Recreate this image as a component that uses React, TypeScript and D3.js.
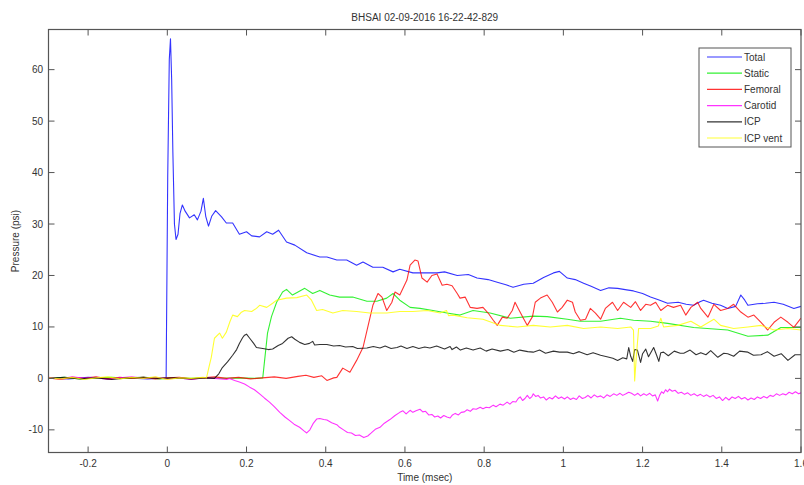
import React from "react";
import * as d3 from "d3";

const titleText = "BHSAI 02-09-2016 16-22-42-829";
const xLabel = "Time (msec)";
const yLabel = "Pressure (psi)";
const xTicks = [-0.2, 0, 0.2, 0.4, 0.6, 0.8, 1, 1.2, 1.4, 1.6];
const yTicks = [-10, 0, 10, 20, 30, 40, 50, 60];
const seriesNames = ["Total", "Static", "Femoral", "Carotid", "ICP", "ICP vent"];
const seriesColors = ["#0000ff", "#00ee00", "#ff0000", "#ff00ff", "#000000", "#ffff00"];

const total: [number, number][] = [[-0.3,0.1],[-0.25,-0.1],[-0.2,0.2],[-0.15,0],[-0.1,0.1],[-0.05,-0.1],[-0.003,0.1],[0.001,39],[0.005,62],[0.008,66],[0.011,58],[0.014,44],[0.018,30],[0.022,27],[0.027,28],[0.032,32],[0.038,33.7],[0.045,32.5],[0.056,31.2],[0.068,31.8],[0.076,30.8],[0.085,32.5],[0.091,35],[0.097,31.5],[0.104,29.6],[0.112,31.5],[0.122,32.6],[0.137,31.4],[0.149,30.2],[0.165,30.2],[0.182,28],[0.2,28.5],[0.213,27.7],[0.233,27.5],[0.251,28.5],[0.266,28],[0.281,28.8],[0.301,26.5],[0.322,25.9],[0.352,24.4],[0.385,23.6],[0.403,23.6],[0.428,23],[0.453,23],[0.478,22],[0.494,22.6],[0.519,21.6],[0.544,21.6],[0.57,20.7],[0.587,21.2],[0.62,20.5],[0.638,20.5],[0.663,20.5],[0.681,20.5],[0.7,20.7],[0.732,20],[0.76,20.2],[0.782,19.5],[0.81,19.2],[0.833,18.7],[0.855,18.2],[0.873,17.7],[0.9,18.3],[0.924,18.5],[0.95,19.6],[0.975,20.5],[0.99,20.8],[1.01,19.5],[1.03,19.2],[1.051,18.5],[1.07,17.9],[1.094,17.1],[1.115,17.6],[1.137,17.5],[1.16,17.2],[1.177,17],[1.2,16.5],[1.22,15.8],[1.24,15.3],[1.263,14.6],[1.29,14.8],[1.31,14.4],[1.329,14.2],[1.345,14.9],[1.354,15.2],[1.375,14.6],[1.397,14.2],[1.415,13.6],[1.435,14],[1.448,16.2],[1.458,15.2],[1.466,14.2],[1.49,14.5],[1.51,14.6],[1.532,14.8],[1.555,14.4],[1.582,13.6],[1.6,14]];

const staticP: [number, number][] = [[-0.3,0],[-0.26,0.2],[-0.22,-0.1],[-0.18,0.1],[-0.14,0.2],[-0.1,0],[-0.06,0.2],[-0.02,-0.1],[0.02,0.1],[0.06,0],[0.1,0.1],[0.14,0],[0.18,0.1],[0.22,0],[0.241,0.1],[0.253,8.8],[0.263,12],[0.276,14.8],[0.291,16.8],[0.301,17.3],[0.316,16.2],[0.33,16.8],[0.347,17.5],[0.367,16.5],[0.385,17.1],[0.41,16.2],[0.435,15.8],[0.468,15.8],[0.504,15],[0.529,15],[0.554,15.6],[0.57,16.5],[0.587,15.2],[0.613,13.8],[0.638,13.6],[0.671,13.2],[0.706,12.7],[0.739,12.3],[0.772,13.2],[0.815,12.7],[0.866,11.7],[0.924,12.1],[0.959,12],[1.01,11.5],[1.043,11.1],[1.094,11.1],[1.144,11.7],[1.177,11.3],[1.22,11.1],[1.263,10.7],[1.329,9.9],[1.415,9.4],[1.466,8.2],[1.516,8.4],[1.549,9.9],[1.6,9.9]];

const femoral: [number, number][] = [[-0.3,0.1],[-0.27,-0.2],[-0.24,0.2],[-0.21,0],[-0.18,0.3],[-0.15,-0.1],[-0.12,0.2],[-0.09,0],[-0.06,0.2],[-0.03,-0.1],[0,0.1],[0.03,0.2],[0.06,-0.1],[0.09,0.1],[0.12,0.3],[0.15,0],[0.18,0.2],[0.21,-0.1],[0.24,0.1],[0.27,0.3],[0.3,0],[0.33,0.4],[0.35,0.6],[0.37,0.2],[0.39,0.5],[0.403,-0.4],[0.42,0.1],[0.428,0.2],[0.443,2],[0.461,1.2],[0.478,3.5],[0.494,6],[0.506,9.9],[0.519,14.2],[0.532,16.5],[0.542,15.8],[0.554,13.2],[0.567,14.8],[0.575,16.8],[0.587,16.2],[0.605,19.1],[0.613,22],[0.625,23],[0.633,22.8],[0.643,19.5],[0.656,18.7],[0.668,20],[0.681,20.3],[0.694,18.1],[0.706,18.3],[0.719,18],[0.732,16.5],[0.739,15.6],[0.752,15.8],[0.765,13.8],[0.782,13.6],[0.797,13.8],[0.81,12.7],[0.823,11.3],[0.833,10.3],[0.846,11.9],[0.858,11.7],[0.871,13.2],[0.878,14.8],[0.886,13.6],[0.899,11.7],[0.909,10.3],[0.922,12],[0.929,14.8],[0.942,15.6],[0.959,16.2],[0.972,14.8],[0.985,12.9],[0.997,13.8],[1.01,15.2],[1.023,14.8],[1.03,12.9],[1.043,11.3],[1.056,11.5],[1.068,13.6],[1.081,12.7],[1.094,11.5],[1.106,13.6],[1.124,14.8],[1.137,13.2],[1.152,14.8],[1.17,13.8],[1.182,14.9],[1.195,13.2],[1.208,14.4],[1.22,14.2],[1.233,14.8],[1.246,13.2],[1.263,14.2],[1.278,13.8],[1.296,14.2],[1.309,12.3],[1.322,13.8],[1.339,14.8],[1.347,13.6],[1.365,11.9],[1.38,14.4],[1.397,13.2],[1.415,13.6],[1.43,14.4],[1.448,12.9],[1.466,11.9],[1.481,12.3],[1.499,10.9],[1.516,9.4],[1.532,10.9],[1.549,11.9],[1.567,10.9],[1.582,9.9],[1.6,11.7]];

const carotid: [number, number][] = [[-0.3,0.2],[-0.27,-0.1],[-0.24,0.3],[-0.21,0],[-0.18,0.2],[-0.15,-0.2],[-0.12,0.1],[-0.09,0.3],[-0.06,0],[-0.03,0.2],[0,-0.1],[0.03,0.1],[0.06,-0.2],[0.09,0.1],[0.12,0],[0.15,-0.2],[0.157,0],[0.17,-0.4],[0.182,-0.7],[0.195,-1.1],[0.208,-1.7],[0.22,-2.2],[0.233,-3],[0.245,-3.8],[0.258,-4.6],[0.27,-5.5],[0.284,-6.6],[0.297,-7.5],[0.309,-8.2],[0.32,-8.9],[0.334,-9.5],[0.345,-10.2],[0.352,-10.6],[0.36,-10],[0.368,-8.8],[0.377,-7.9],[0.385,-7.8],[0.395,-8],[0.403,-8.1],[0.415,-8.6],[0.428,-9],[0.435,-9.5],[0.445,-10],[0.455,-10.5],[0.465,-10.6],[0.475,-11.1],[0.485,-11],[0.496,-11.5],[0.506,-11.2],[0.515,-10.6],[0.525,-9.9],[0.537,-9.5],[0.548,-8.7],[0.562,-8],[0.575,-7.2],[0.587,-6.6],[0.595,-6.3],[0.603,-6.9],[0.613,-6.2],[0.62,-6.6],[0.628,-6.3],[0.638,-6],[0.645,-6.5],[0.652,-6.4],[0.66,-7.1],[0.668,-7],[0.675,-7.5],[0.683,-7.3],[0.69,-7.7],[0.698,-7.2],[0.706,-7.5],[0.714,-7.7],[0.72,-7.1],[0.727,-6.8],[0.735,-7.1],[0.742,-6.6],[0.75,-6.5],[0.757,-6.1],[0.765,-6.4],[0.772,-5.9],[0.78,-6],[0.79,-5.6],[0.797,-5.9],[0.805,-5.6],[0.813,-5.7],[0.823,-5.2],[0.83,-5.5],[0.84,-5],[0.848,-5.2],[0.858,-4.6],[0.865,-5],[0.872,-4.5],[0.88,-4.6],[0.886,-3.9],[0.891,-3.6],[0.897,-4.3],[0.903,-3.9],[0.909,-3.3],[0.915,-3.9],[0.92,-3.6],[0.924,-3],[0.93,-3.5],[0.936,-3.3],[0.942,-3.8],[0.95,-3.6],[0.957,-4.2],[0.965,-3.7],[0.972,-4],[0.98,-3.4],[0.988,-3.9],[0.995,-3.6],[1.003,-4],[1.01,-3.6],[1.018,-4.1],[1.025,-3.8],[1.033,-4.1],[1.04,-3.4],[1.048,-3.9],[1.055,-3.7],[1.062,-3.3],[1.07,-3.8],[1.078,-3.2],[1.086,-3.6],[1.094,-3.4],[1.102,-3.8],[1.11,-3.2],[1.118,-3.5],[1.127,-3],[1.135,-3.3],[1.143,-2.9],[1.15,-3.3],[1.158,-3],[1.165,-2.7],[1.172,-2.9],[1.18,-3.3],[1.188,-2.9],[1.195,-3.4],[1.203,-3],[1.21,-3.3],[1.218,-2.9],[1.225,-3.4],[1.232,-3.2],[1.238,-4.4],[1.243,-3.3],[1.248,-2.6],[1.253,-2.9],[1.258,-2.2],[1.263,-2.6],[1.268,-2.1],[1.275,-2.5],[1.282,-2.3],[1.29,-2.9],[1.298,-2.7],[1.306,-3.1],[1.314,-2.8],[1.322,-3.3],[1.33,-3],[1.338,-3.4],[1.346,-3.1],[1.354,-3.5],[1.362,-3.2],[1.37,-3.6],[1.378,-3.3],[1.386,-3.9],[1.394,-3.6],[1.402,-4.3],[1.41,-3.7],[1.418,-4.2],[1.426,-3.6],[1.434,-3.9],[1.442,-3.5],[1.45,-4],[1.458,-3.7],[1.466,-4.2],[1.474,-3.8],[1.482,-4.1],[1.49,-3.6],[1.498,-3.9],[1.506,-3.5],[1.514,-3.8],[1.522,-3.3],[1.53,-3.5],[1.538,-3],[1.546,-3.3],[1.554,-3],[1.562,-3.2],[1.57,-2.7],[1.578,-3],[1.586,-2.6],[1.594,-3],[1.6,-2.8]];

const icp: [number, number][] = [[-0.3,0],[-0.26,0.2],[-0.22,-0.1],[-0.18,0.1],[-0.14,-0.2],[-0.1,0.1],[-0.06,0.2],[-0.02,0],[0.02,0.1],[0.06,-0.1],[0.1,0.1],[0.119,0],[0.13,0.9],[0.139,2.1],[0.152,3.2],[0.165,4.5],[0.175,5.6],[0.182,6.8],[0.19,7.9],[0.195,8.4],[0.2,8.6],[0.208,7.8],[0.218,6.8],[0.225,6],[0.241,5.8],[0.255,5.6],[0.266,5.7],[0.28,6.4],[0.291,6.8],[0.305,7.8],[0.314,8.1],[0.322,7.6],[0.334,7],[0.347,6.6],[0.359,6.8],[0.367,7.2],[0.372,6.5],[0.385,6.6],[0.403,6.6],[0.42,6.3],[0.435,6.4],[0.45,6.1],[0.468,6.2],[0.48,5.8],[0.504,5.9],[0.52,6.2],[0.537,5.9],[0.55,6.3],[0.565,5.8],[0.58,6],[0.59,6.3],[0.605,5.8],[0.62,6.2],[0.635,5.8],[0.65,6.1],[0.663,5.9],[0.68,6.3],[0.7,5.7],[0.714,6.2],[0.719,5.6],[0.73,6.1],[0.74,5.5],[0.755,5.9],[0.772,5.5],[0.79,5.9],[0.805,5.3],[0.82,5.7],[0.841,5.3],[0.86,5.6],[0.875,5.1],[0.89,5.5],[0.91,5.2],[0.924,5.1],[0.94,5.5],[0.955,4.9],[0.975,5.3],[0.99,5.1],[1.01,5.1],[1.025,4.8],[1.04,5.2],[1.06,4.6],[1.075,5],[1.094,4.5],[1.11,4.2],[1.125,3.9],[1.137,3.5],[1.15,4],[1.16,3.8],[1.165,6],[1.17,4.3],[1.175,3.3],[1.18,5.6],[1.187,5.5],[1.195,3.1],[1.2,4.8],[1.208,5.7],[1.215,4.2],[1.228,6],[1.235,4.6],[1.241,3.3],[1.246,5],[1.253,5.1],[1.265,4.4],[1.28,5.3],[1.295,4.9],[1.304,4.9],[1.32,5.5],[1.335,4.6],[1.347,5],[1.36,4.6],[1.372,5.4],[1.39,4.1],[1.405,4.9],[1.415,4.8],[1.43,4.3],[1.445,5.3],[1.466,5.1],[1.48,4.5],[1.499,4.6],[1.515,5.2],[1.532,4.3],[1.55,4.8],[1.567,3.5],[1.585,4.6],[1.6,4.6]];

const icpVent: [number, number][] = [[-0.3,0.1],[-0.27,-0.1],[-0.24,0.2],[-0.21,-0.2],[-0.18,0.1],[-0.15,0.3],[-0.12,-0.1],[-0.09,0.2],[-0.06,0],[-0.03,0.3],[0,-0.2],[0.03,0.1],[0.06,0],[0.09,0.2],[0.099,0.1],[0.106,2.5],[0.111,4.1],[0.119,7.8],[0.132,8.8],[0.139,7.8],[0.149,9],[0.158,11],[0.165,12.3],[0.177,12],[0.186,12.8],[0.195,13.2],[0.213,13],[0.225,13.6],[0.233,14.2],[0.251,13.8],[0.266,14.6],[0.276,15.2],[0.301,15.6],[0.327,15.7],[0.352,16.2],[0.364,15.2],[0.377,13.2],[0.392,13.4],[0.418,12.7],[0.443,13.2],[0.478,13],[0.511,12.7],[0.554,12.7],[0.587,13],[0.62,13],[0.656,13.2],[0.689,12.7],[0.705,13.2],[0.71,12.2],[0.722,12.3],[0.757,11.8],[0.797,11.5],[0.841,10.3],[0.884,10],[0.924,10.3],[0.967,10],[1.01,10.3],[1.051,9.7],[1.094,10],[1.137,9.7],[1.17,10],[1.177,9.4],[1.18,-0.5],[1.184,4],[1.19,9.7],[1.22,9.7],[1.24,10.2],[1.246,11.7],[1.253,10],[1.289,10.3],[1.322,11.1],[1.347,10],[1.38,11.5],[1.397,10.3],[1.43,9.7],[1.466,10],[1.499,10.3],[1.532,9.4],[1.567,9.7],[1.6,9.4]];

const allSeries = [total, staticP, femoral, carotid, icp, icpVent];

const W = 804, H = 485;
const left = 48.5, right = 801, top = 29.5, bottom = 452.5;
const font = "'Liberation Sans', Arial, sans-serif";

export default function App() {
  const x = d3.scaleLinear().domain([-0.3, 1.6]).range([left, right]);
  const y = d3.scaleLinear().domain([-14.4, 67.8]).range([bottom, top]);
  const line = d3.line<[number, number]>().x(d => x(d[0])).y(d => y(d[1]));
  const axisColor = "#555";
  const tickLen = 6;
  const legX = 699, legY = 48, legW = 92, legH = 99;
  return (
    <svg width={W} height={H} style={{ position: "absolute", left: 0, top: 0, background: "#fff" }}>
      <defs>
        <clipPath id="plotClip">
          <rect x={left} y={top} width={right - left} height={bottom - top} />
        </clipPath>
      </defs>
      <rect x={0} y={0} width={W} height={H} fill="#fff" />
      <g clipPath="url(#plotClip)">
        {allSeries.map((s, i) => (
          <path key={i} d={line(s) || ""} fill="none" stroke={seriesColors[i]} strokeWidth={1.1} strokeOpacity={0.8} strokeLinejoin="round" />
        ))}
      </g>
      <rect x={left} y={top} width={right - left} height={bottom - top} fill="none" stroke={axisColor} strokeWidth={1.2} />
      {xTicks.map(t => (
        <g key={"xt" + t}>
          <line x1={x(t)} x2={x(t)} y1={bottom} y2={bottom - tickLen} stroke={axisColor} />
          <line x1={x(t)} x2={x(t)} y1={top} y2={top + tickLen} stroke={axisColor} />
          <text x={x(t)} y={467} textAnchor="middle" fontFamily={font} fontSize={10} fill="#333">{String(t)}</text>
        </g>
      ))}
      {yTicks.map(v => (
        <g key={"yt" + v}>
          <line x1={left} x2={left + tickLen} y1={y(v)} y2={y(v)} stroke={axisColor} />
          <line x1={right} x2={right - tickLen} y1={y(v)} y2={y(v)} stroke={axisColor} />
          <text x={43} y={y(v) + 3.5} textAnchor="end" fontFamily={font} fontSize={10} fill="#333">{String(v)}</text>
        </g>
      ))}
      <text x={(left + right) / 2} y={21} textAnchor="middle" fontFamily={font} fontSize={10} fill="#333">{titleText}</text>
      <text x={(left + right) / 2} y={481} textAnchor="middle" fontFamily={font} fontSize={10} fill="#333">{xLabel}</text>
      <text transform={`translate(19,${(top + bottom) / 2}) rotate(-90)`} textAnchor="middle" fontFamily={font} fontSize={10} fill="#333">{yLabel}</text>
      <rect x={legX} y={legY} width={legW} height={legH} fill="#fff" stroke="#555" strokeWidth={1} />
      {seriesNames.map((n, i) => {
        const ly = 57 + i * 16.2;
        return (
          <g key={n}>
            <line x1={707} x2={742} y1={ly} y2={ly} stroke={seriesColors[i]} strokeWidth={1.2} strokeOpacity={0.8} />
            <text x={744} y={ly + 3.5} fontFamily={font} fontSize={10} fill="#333">{n}</text>
          </g>
        );
      })}
    </svg>
  );
}
